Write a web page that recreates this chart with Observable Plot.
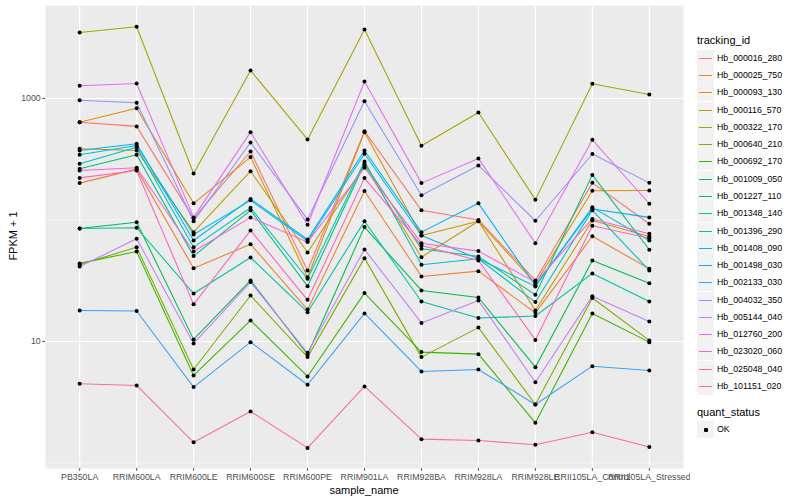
<!DOCTYPE html>
<html><head><meta charset="utf-8">
<script src="https://cdn.jsdelivr.net/npm/d3@7"></script>
<script src="https://cdn.jsdelivr.net/npm/@observablehq/plot@0.6"></script>
<style>
body{margin:0;background:#fff;font-family:"Liberation Sans",Arial,Helvetica,sans-serif;}
#wrap{position:relative;width:800px;height:500px;overflow:hidden;}
#chart{position:absolute;left:0;top:0;}
.ytitle{position:absolute;left:13px;top:236px;transform:translate(-50%,-50%) rotate(-90deg);font-size:11px;white-space:nowrap;color:#000;}
.xtitle{position:absolute;left:364px;top:490px;transform:translate(-50%,-50%);font-size:11px;white-space:nowrap;color:#000;}
.lg{position:absolute;white-space:nowrap;}
.lgtitle{font-size:11px;color:#000;transform:translateY(-50%);}
.lgkey{width:17px;height:17px;background:#F2F2F2;}
.lglab{font-size:8.8px;color:#000;transform:translateY(-50%);}
</style>
</head><body>
<div id="wrap"><div id="chart"></div>
<div class="ytitle">FPKM + 1</div>
<div class="xtitle">sample_name</div>
<div id="legend"></div>
</div>
<script>
const samples = ["PB350LA","RRIM600LA","RRIM600LE","RRIM600SE","RRIM600PE","RRIM901LA","RRIM928BA","RRIM928LA","RRIM928LE","RRII105LA_Control","RRII105LA_Stressed"];
const trackingIds = ["Hb_000016_280","Hb_000025_750","Hb_000093_130","Hb_000116_570","Hb_000322_170","Hb_000640_210","Hb_000692_170","Hb_001009_050","Hb_001227_110","Hb_001348_140","Hb_001396_290","Hb_001408_090","Hb_001498_030","Hb_002133_030","Hb_004032_350","Hb_005144_040","Hb_012760_200","Hb_023020_060","Hb_025048_040","Hb_101151_020"];
const yTicks = [10, 1000];

const hb_000016_280 = [638, 589, 103, 366, 38.4, 538, 120, 100, 31.8, 202, 93];
const hb_000025_750 = [201, 262, 40.1, 63.2, 18.3, 173, 34.3, 37.9, 17.2, 73.4, 39.7];
const hb_000093_130 = [638, 832, 137, 329, 33.8, 528, 74.5, 97.7, 30.0, 174, 175];
const hb_000116_570 = [385, 373, 79.4, 252, 54.0, 281, 49.4, 97.7, 18.0, 99.1, 73.1];
const hb_000322_170 = [3493, 3890, 241, 1700, 460, 3698, 408, 767, 147, 1321, 1079];
const hb_000640_210 = [43.0, 59.7, 5.88, 23.9, 7.43, 48.5, 7.43, 13.0, 3.03, 22.8, 10.2];
const hb_000692_170 = [43.9, 55.0, 5.25, 14.9, 5.15, 25.0, 8.17, 7.86, 2.14, 17.0, 9.87];
const hb_001009_050 = [85.1, 95.9, 10.4, 31.8, 7.82, 87.3, 26.3, 23.0, 6.14, 46.4, 30.2];
const hb_001227_110 = [264, 344, 50.4, 120, 28.5, 290, 57.9, 50.1, 24.2, 235, 56.9];
const hb_001348_140 = [85.1, 86.3, 24.8, 49.1, 17.4, 97.7, 21.3, 15.6, 16.2, 36.3, 21.3];
const hb_001396_290 = [290, 397, 59.7, 126, 32.8, 303, 42.8, 47.9, 21.1, 120, 38.4];
const hb_001408_090 = [344, 410, 76.0, 145, 66.9, 351, 74.5, 47.9, 28.4, 127, 67.8];
const hb_001498_030 = [373, 424, 67.8, 149, 69.1, 373, 79.4, 137, 28.9, 123, 105];
const hb_002133_030 = [18.0, 17.8, 4.21, 9.87, 4.40, 17.0, 5.66, 5.88, 3.03, 6.26, 5.77];
const hb_004032_350 = [968, 922, 97.7, 434, 101, 950, 160, 281, 98.5, 349, 202];
const hb_005144_040 = [41.4, 70.0, 9.63, 30.8, 8.07, 57.2, 14.2, 21.7, 4.62, 23.6, 14.6];
const hb_012760_200 = [1273, 1328, 105, 528, 91.3, 1380, 201, 321, 64.4, 457, 136];
const hb_023020_060 = [255, 269, 55.0, 105, 65.7, 269, 64.4, 55.4, 30.8, 102, 76.9];
const hb_025048_040 = [222, 255, 20.2, 82.0, 22.0, 221, 61.7, 46.4, 10.3, 89.6, 70.8];
const hb_101151_020 = [4.49, 4.34, 1.48, 2.65, 1.33, 4.26, 1.57, 1.53, 1.41, 1.79, 1.35];

const seriesValues = [hb_000016_280, hb_000025_750, hb_000093_130, hb_000116_570, hb_000322_170, hb_000640_210, hb_000692_170, hb_001009_050, hb_001227_110, hb_001348_140, hb_001396_290, hb_001408_090, hb_001498_030, hb_002133_030, hb_004032_350, hb_005144_040, hb_012760_200, hb_023020_060, hb_025048_040, hb_101151_020];

const palette = ["#F8766D","#EA8331","#D89000","#C09B00","#A3A500","#7CAE00","#39B600","#00BB4E","#00BF7D","#00C1A3","#00BFC4","#00BAE0","#00B0F6","#35A2FF","#9590FF","#C77CFF","#E76BF3","#FA62DB","#FF62BC","#FF6C91"];

const data = [];
trackingIds.forEach((id, i) => {
  seriesValues[i].forEach((v, j) => data.push({id, sample: samples[j], fpkm: v}));
});

const chart = Plot.plot({
  width: 690, height: 500,
  marginLeft: 45, marginRight: 7, marginTop: 5, marginBottom: 32,
  style: {fontFamily: '"Liberation Sans", Arial, Helvetica, sans-serif', fontSize: "8.8px", background: "transparent"},
  x: {type: "point", domain: samples, padding: 0.6, round: false, label: null},
  y: {type: "log", domain: [0.9, 5824], label: null},
  color: {domain: trackingIds, range: palette},
  marks: [
    Plot.frame({fill: "#EBEBEB", stroke: null}),
    Plot.ruleY([1, 100], {stroke: "white", strokeWidth: 0.55}),
    Plot.ruleY(yTicks, {stroke: "white", strokeWidth: 1.1}),
    Plot.ruleX(samples, {stroke: "white", strokeWidth: 1.1}),
    Plot.axisX({ticks: samples, tickSize: 2.75, tickPadding: 2, color: "#4D4D4D", label: null}),
    Plot.axisY({ticks: yTicks, tickSize: 2.75, tickPadding: 2, color: "#4D4D4D", tickFormat: d => String(d), label: null}),
    Plot.line(data, {x: "sample", y: "fpkm", z: "id", stroke: "id", strokeWidth: 1.07}),
    Plot.dot(data, {x: "sample", y: "fpkm", r: 2, fill: "black", stroke: null})
  ]
});
document.getElementById("chart").appendChild(chart);

// legend
const lg = document.getElementById("legend");
function add(cls, x, y, html) {
  const d = document.createElement("div");
  d.className = "lg " + cls;
  d.style.left = x + "px"; d.style.top = y + "px";
  if (html !== undefined) d.textContent = html;
  lg.appendChild(d);
  return d;
}
add("lgtitle", 697, 40, "tracking_id");
trackingIds.forEach((id, i) => {
  const cy = Math.round(57.7 + i * 17.28);
  const k = add("lgkey", 697, cy - 8);
  const ln = document.createElement("div");
  ln.style.cssText = `position:absolute;left:2px;top:8px;width:13px;height:1px;background:${palette[i]};`;
  k.appendChild(ln);
  add("lglab", 717, cy, id);
});
add("lgtitle", 697, 412, "quant_status");
const k2 = add("lgkey", 697, 429 - 8);
const pt = document.createElement("div");
pt.style.cssText = "position:absolute;left:6.5px;top:6.5px;width:4px;height:4px;background:#000;border-radius:1px;";
k2.appendChild(pt);
add("lglab", 717, 429, "OK");
</script>
</body></html>
